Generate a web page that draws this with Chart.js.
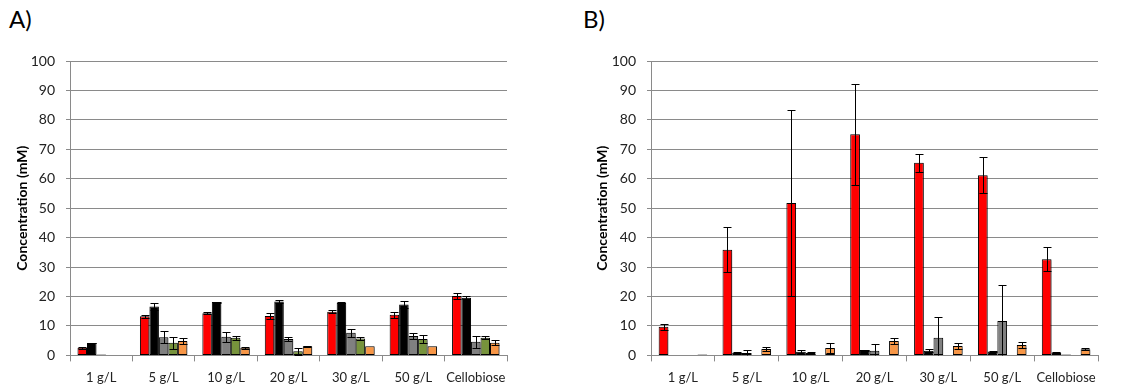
<!DOCTYPE html>
<html>
<head>
<meta charset="utf-8">
<script src="https://cdn.jsdelivr.net/npm/chart.js@4.4.1/dist/chart.umd.min.js"></script>
<style>
html, body { margin: 0; padding: 0; background: #fff; }
body { width: 1146px; height: 392px; position: relative; overflow: hidden; font-family: Lato, sans-serif; }
.panel { position: absolute; top: 0; height: 400px; }
.letter { position: absolute; top: 5px; font-size: 24px; color: #000; line-height: 1.2; }
</style>
</head>
<body>
<div class="letter" style="left:9px">A)</div>
<div class="letter" style="left:583px">B)</div>
<div class="panel" style="left:0;width:580px"><canvas id="chartA"></canvas></div>
<div class="panel" style="left:580px;width:566px"><canvas id="chartB"></canvas></div>
<script>
const categories = ['1 g/L', '5 g/L', '10 g/L', '20 g/L', '30 g/L', '50 g/L', 'Cellobiose'];
const yTicks = [0, 10, 20, 30, 40, 50, 60, 70, 80, 90, 100];

// panel A
const redA = [2.6, 13.3, 14.3, 13.4, 14.8, 13.8, 20.2];
const redAErr = [0.3, 0.5, 0.3, 1.1, 0.5, 1.0, 1.0];
const blackA = [4.2, 16.6, 18.1, 18.3, 17.9, 17.3, 19.6];
const blackAErr = [0.1, 1.2, 0.2, 0.6, 0.2, 1.2, 0.5];
const grayA = [0.3, 6.2, 6.3, 5.6, 7.7, 6.6, 4.6];
const grayAErr = [0, 2.1, 1.7, 0.6, 1.3, 1.1, 2.0];
const greenA = [null, 4.3, 6.0, 1.4, 5.7, 5.6, 6.0];
const greenAErr = [0, 2.0, 0.6, 1.1, 0.5, 1.3, 0.5];
const orangeA = [null, 4.9, 2.6, 3.1, 3.1, 3.1, 4.3];
const orangeAErr = [0, 1.0, 0.3, 0.1, 0, 0, 0.9];

// panel B
const redB = [9.7, 35.9, 51.8, 75.1, 65.4, 61.2, 32.7];
const redBErr = [1.0, 7.7, 31.7, 17.2, 3.0, 6.1, 4.0];
const blackB = [null, 0.9, 1.2, 1.8, 1.6, 1.3, 1.0];
const blackBErr = [0, 0.1, 0.6, 0.2, 0.6, 0.1, 0.1];
const grayB = [null, 0.8, 0.8, 1.6, 6.0, 11.7, 0.3];
const grayBErr = [0, 0.9, 0.2, 2.4, 7.0, 12.2, 0];
const greenB = [null, null, null, null, null, null, null];
const greenBErr = [0, 0, 0, 0, 0, 0, 0];
const orangeB = [0.3, 2.2, 2.5, 4.9, 3.2, 3.5, 2.1];
const orangeBErr = [0, 0.8, 1.8, 1.0, 1.0, 1.1, 0.3];

const colors = ['#ff0000', '#000000', '#808080', '#77933c', '#f79646'];
const gridColor = '#8a8a8a';

const barShadow = {
    id: 'barShadow',
    beforeDatasetsDraw(chart) {
        const c = chart.ctx;
        c.save();
        c.shadowColor = 'rgba(0,0,0,0.3)';
        c.shadowOffsetX = 2;
        c.shadowOffsetY = 1;
        c.shadowBlur = 2;
    },
    afterDatasetsDraw(chart) {
        chart.ctx.restore();
    }
};

// excel style +/- error bars, lower part clipped at zero
const errorBars = {
    id: 'errorBars',
    afterDatasetsDraw(chart) {
        const ctx = chart.ctx;
        const y = chart.scales.y;
        ctx.save();
        ctx.strokeStyle = '#000';
        ctx.lineWidth = 1;
        chart.data.datasets.forEach((ds, i) => {
            chart.getDatasetMeta(i).data.forEach((bar, j) => {
                const v = ds.data[j];
                const e = ds.errors[j];
                if (v == null || !e) return;
                const x = Math.round(bar.x) + 0.5;
                const top = Math.round(y.getPixelForValue(v + e)) + 0.5;
                const bot = Math.round(y.getPixelForValue(Math.max(v - e, 0))) + 0.5;
                ctx.beginPath();
                ctx.moveTo(x, top); ctx.lineTo(x, bot);
                ctx.moveTo(x - 4, top); ctx.lineTo(x + 4, top);
                if (v - e > 0) { ctx.moveTo(x - 4, bot); ctx.lineTo(x + 4, bot); }
                ctx.stroke();
            });
        });
        ctx.restore();
    }
};

function makeChart(id, series, errors, axisWidth, padRight) {
    const datasets = series.map((d, i) => ({
        label: 'Series ' + (i + 1),
        data: d,
        errors: errors[i],
        backgroundColor: colors[i],
        borderColor: '#000',
        borderWidth: 1,
        borderSkipped: false
    }));
    return new Chart(id, {
        type: 'bar',
        data: { labels: categories, datasets: datasets },
        plugins: [barShadow, errorBars],
        options: {
            responsive: true,
            maintainAspectRatio: false,
            animation: false,
            categoryPercentage: 0.76,
            barPercentage: 1,
            layout: { padding: { top: 61, right: padRight, bottom: 5, left: 0 } },
            plugins: { legend: { display: false }, tooltip: { enabled: false } },
            scales: {
                x: {
                    grid: { display: true, drawOnChartArea: false, color: gridColor, tickLength: 6, offset: true },
                    border: { display: true, color: gridColor },
                    ticks: { font: { family: 'Lato', size: 13 }, color: '#222', padding: 9, maxRotation: 0, autoSkip: false }
                },
                y: {
                    min: 0,
                    max: 100,
                    afterBuildTicks(scale) { scale.ticks = yTicks.map(v => ({ value: v })); },
                    afterFit(scale) { scale.width = axisWidth; },
                    grid: { color: gridColor, tickLength: 4 },
                    border: { display: true, color: gridColor },
                    ticks: { font: { family: 'Lato', size: 14 }, color: '#222', padding: 11 },
                    title: {
                        display: true,
                        text: 'Concentration (mM)',
                        font: { family: 'Lato', size: 14, weight: 'bold' },
                        color: '#000',
                        padding: { top: 14, bottom: 0 }
                    }
                }
            }
        }
    });
}

makeChart('chartA', [redA, blackA, grayA, greenA, orangeA],
    [redAErr, blackAErr, grayAErr, greenAErr, orangeAErr], 70, 73);
makeChart('chartB', [redB, blackB, grayB, greenB, orangeB],
    [redBErr, blackBErr, grayBErr, greenBErr, orangeBErr], 71, 48);
</script>
</body>
</html>
